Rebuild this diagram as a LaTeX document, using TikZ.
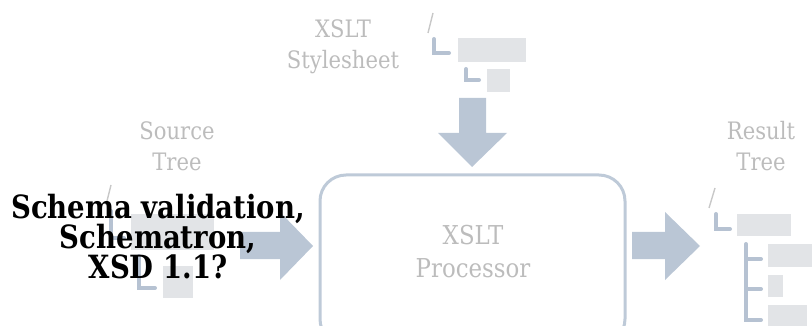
\documentclass[tikz,border=0pt]{standalone}
\usepackage{fontspec}
\setmainfont{DejaVu Serif}
\newfontfamily\labfont[FakeStretch=0.88]{DejaVu Serif}
\newfontfamily\boldlab[FakeStretch=0.86]{DejaVu Serif}
\begin{document}
\begin{tikzpicture}[x=1pt,y=-1pt,
  graytext/.style={text=labgray,font=\labfont\fontsize{24}{31}\selectfont,align=center,inner sep=0pt},
  treebox/.style={fill=boxgray,draw=none},
  treeline/.style={draw=linegray,line width=4pt,line cap=round},
  slashline/.style={draw=slashgray,line width=1.4pt},
  fatarrow/.style={fill=arrowblue,draw=none}]
\definecolor{labgray}{RGB}{188,188,188}
\definecolor{boxgray}{RGB}{226,228,231}
\definecolor{linegray}{RGB}{182,194,210}
\definecolor{slashgray}{RGB}{200,200,200}
\definecolor{arrowblue}{RGB}{186,198,213}
\definecolor{framecol}{RGB}{190,202,216}
\useasboundingbox (0,0) rectangle (812,326);
\clip (0,0) rectangle (812,326);
% ---- top tree (stylesheet)
\draw[slashline] (433,13) -- (428,33);
\draw[treeline] (434,39) -- (434,53) -- (449,53);
\fill[treebox] (458,38) rectangle (526,62);
\draw[treeline] (466,69) -- (466,80) -- (479,80);
\fill[treebox] (487,69) rectangle (510,92);
\node[graytext] (sty) at (343,47) {XSLT\\Stylesheet};
% ---- source tree
\draw[slashline] (111,185) -- (106,205);
\draw[treeline] (111,211) -- (111,238) -- (124,238);
\fill[treebox] (131,214) rectangle (214,250);
\draw[treeline] (139,256) -- (139,288) -- (155,288);
\fill[treebox] (163,266) rectangle (193,298);
\node[graytext] (src) at (177,146) {Source\\Tree};
% ---- result tree
\draw[slashline] (715,188) -- (709,208);
\draw[treeline] (716,214) -- (716,229) -- (730,229);
\fill[treebox] (737,214) rectangle (791,236);
\draw[treeline] (746,244) -- (746,320) -- (761,320);
\draw[treeline] (746,259) -- (761,259);
\draw[treeline] (746,289) -- (761,289);
\fill[treebox] (768,244) rectangle (815,267);
\fill[treebox] (768,275) rectangle (783,297);
\fill[treebox] (768,305) rectangle (807,330);
\node[graytext] (res) at (761,146) {Result\\Tree};
% ---- processor
\draw[framecol,line width=3pt,rounded corners=26pt] (320,175) rectangle (625,345);
\node[graytext,font=\labfont\fontsize{26}{33}\selectfont] (proc) at (473,252) {XSLT\\Processor};
% ---- arrows
\fill[fatarrow] (459,98) -- (486,98) -- (486,133) -- (507,133) -- (472,167) -- (438,133) -- (459,133) -- cycle;
\fill[fatarrow] (240,232) -- (280,232) -- (280,212) -- (313,246) -- (280,280) -- (280,259) -- (240,259) -- cycle;
\fill[fatarrow] (632,232) -- (665,232) -- (665,212) -- (700,246) -- (665,280) -- (665,259) -- (632,259) -- cycle;
% ---- bold label
\node[font=\boldlab\bfseries\fontsize{32}{30}\selectfont,align=center,inner sep=0pt,text=black] (schema) at (158,237) {Schema validation,\\Schematron,\\XSD 1.1?};
\end{tikzpicture}
\end{document}
